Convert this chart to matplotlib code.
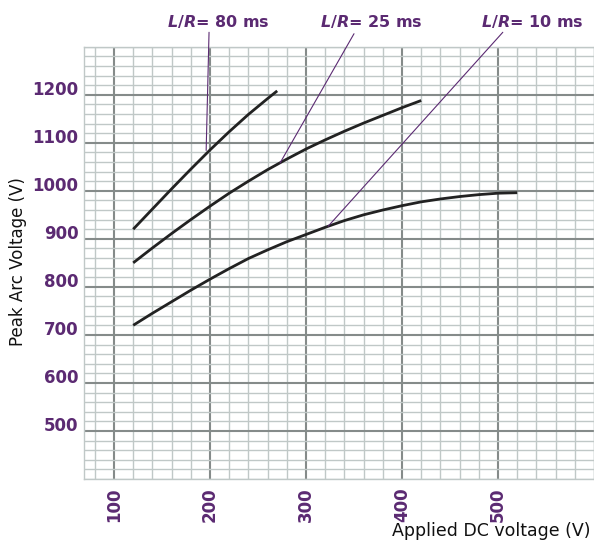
import numpy as np
import matplotlib.pyplot as plt
from matplotlib.ticker import MultipleLocator

# values
v_80 = [120, 140, 160, 180, 200, 220, 240, 260, 270]
p_80 = [920, 962, 1004, 1045, 1085, 1123, 1159, 1192, 1208]

v_25 = [120, 140, 160, 180, 200, 220, 240, 260, 280, 300, 320, 340, 360, 380, 400, 420]
p_25 = [850, 881, 911, 940, 968, 995, 1020, 1044, 1066, 1087, 1106, 1124, 1141, 1157, 1173, 1188]

v_10 = [120, 140, 160, 180, 200, 220, 240, 260, 280, 300, 320, 340, 360, 380, 400,
        420, 440, 460, 480, 500, 520]
p_10 = [720, 745, 769, 793, 816, 838, 859, 877, 894, 909, 924, 938, 950, 960, 969,
        977, 983, 988, 992, 995, 996]

x_ticks = [100, 200, 300, 400, 500]
y_ticks = [500, 600, 700, 800, 900, 1000, 1100, 1200]

purple = '#5b2a72'

fig = plt.figure(figsize=(5.94, 5.42), dpi=100)
ax = fig.add_axes([84/594, 1 - 479/542, 1 - 84/594, (479 - 46.7)/542])

ax.set_xlim(68.75, 600)
ax.set_ylim(400, 1300)

# graph paper grid
ax.xaxis.set_major_locator(MultipleLocator(100))
ax.yaxis.set_major_locator(MultipleLocator(100))
ax.xaxis.set_minor_locator(MultipleLocator(20))
ax.yaxis.set_minor_locator(MultipleLocator(20))
ax.grid(which='minor', color='#c0c8c7', lw=1.0)
ax.grid(which='major', color='#858b8a', lw=1.5)
ax.set_axisbelow(True)
for s in ax.spines.values():
    s.set_color('#c0c8c7')
    s.set_linewidth(1.0)

ax.set_xticks(x_ticks)
ax.set_yticks(y_ticks)
ax.set_xticklabels([str(v) for v in x_ticks], rotation=90, fontsize=12,
                   fontweight='bold', color=purple)
ax.set_yticklabels([str(v) for v in y_ticks], fontsize=12,
                   fontweight='bold', color=purple)
for lab in ax.get_yticklabels():
    lab.set_va('baseline')
ax.tick_params(which='both', length=0)
ax.tick_params(axis='x', pad=6)
ax.tick_params(axis='y', pad=4)

# curves
for v, p in [(v_80, p_80), (v_25, p_25), (v_10, p_10)]:
    ax.plot(v, p, color='#222222', lw=2.0, solid_capstyle='butt',
            solid_joinstyle='round', zorder=3)

# pointer labels
notes = [
    (r'$\boldsymbol{L/R}$= 80 ms', (196, 1084), (199, 1330), 209),
    (r'$\boldsymbol{L/R}$= 25 ms', (273, 1058), (350, 1327), 368),
    (r'$\boldsymbol{L/R}$= 10 ms', (323, 926), (505, 1330), 536),
]
for txt, xy, top, tx in notes:
    ax.annotate('', xy=xy, xytext=top, annotation_clip=False,
                arrowprops=dict(arrowstyle='-', color=purple, lw=0.8,
                                shrinkA=0, shrinkB=0))
    ax.text(tx, 1352, txt, ha='center', va='center', fontsize=11.5,
            fontweight='bold', color=purple, clip_on=False)

fig.text(18/594, 1 - 262/542, 'Peak Arc Voltage (V)', rotation=90,
         ha='center', va='center', fontsize=12, color='#111111')
fig.text(591/594, 1 - 531/542, 'Applied DC voltage (V)', ha='right',
         va='center', fontsize=12.5, color='#111111')

fig.savefig('out.png', dpi=100)
